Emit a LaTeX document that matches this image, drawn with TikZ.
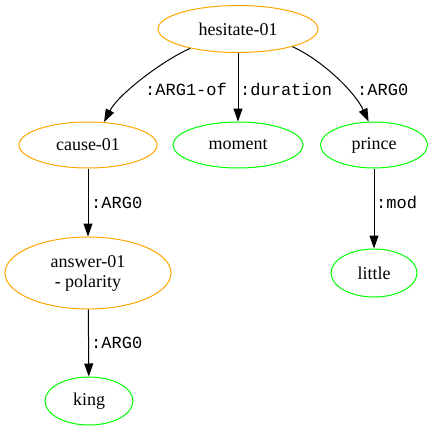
\documentclass[tikz,border=0pt]{standalone}
\usepackage{fontspec}
\setmainfont{Liberation Serif}
\newfontfamily\lblfont{Liberation Mono}
\usetikzlibrary{shapes.geometric,arrows.meta}
\definecolor{amrorange}{HTML}{FFA500}
\definecolor{amrgreen}{HTML}{00FF00}
\tikzset{
  concept/.style={ellipse,draw=amrorange,line width=1pt,inner sep=0pt,font=\fontsize{18}{20}\selectfont,align=center},
  entity/.style={ellipse,draw=amrgreen,line width=1pt,inner sep=0pt,font=\fontsize{18}{20}\selectfont,align=center},
  rel/.style={-{Triangle[length=13pt,width=9pt]},line width=1pt,black},
  rlabel/.style={anchor=base west,inner sep=0pt,font=\lblfont\fontsize{17}{17}\selectfont}
}
\begin{document}
\begin{tikzpicture}[x=1pt,y=-1pt]
\useasboundingbox (0,0) rectangle (434,431);
\node[concept,minimum width=160pt,minimum height=47pt] (h) at (238,29) {hesitate-01};
\node[concept,minimum width=138pt,minimum height=46pt] (c) at (88,145) {cause-01};
\node[entity,minimum width=130pt,minimum height=46pt] (m) at (238,145) {moment};
\node[entity,minimum width=107pt,minimum height=46pt] (p) at (374,145) {prince};
\node[concept,minimum width=166pt,minimum height=72pt] (a) at (88,273) {answer-01\\- polarity};
\node[entity,minimum width=86pt,minimum height=48pt] (l) at (374,273) {little};
\node[entity,minimum width=88pt,minimum height=48pt] (k) at (89,401) {king};

\draw[rel] (h.202) .. controls (160,62) and (118,95) .. (c.55);
\draw[rel] (h) -- (m);
\draw[rel] (h.342) .. controls (322,60) and (355,92) .. (p.103);
\draw[rel] (c) -- (a);
\draw[rel] (p) -- (l);
\draw[rel] (a) -- (k);

\node[rlabel] (l1) at (145,95) {:ARG1-of};
\node[rlabel] (l2) at (240,95) {:duration};
\node[rlabel] (l3) at (357,95) {:ARG0};
\node[rlabel] (l4) at (91,208) {:ARG0};
\node[rlabel] (l5) at (376,208) {:mod};
\node[rlabel] (l6) at (91,348) {:ARG0};
\end{tikzpicture}
\end{document}
